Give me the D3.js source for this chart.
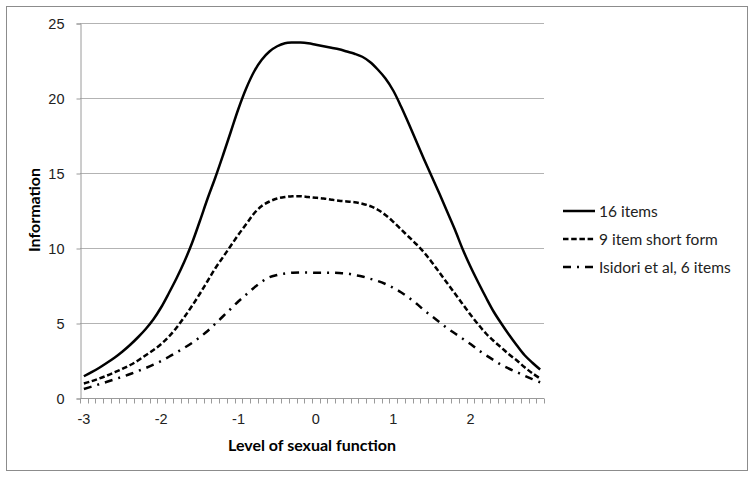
<!DOCTYPE html>
<html>
<head>
<meta charset="utf-8">
<script src="https://cdn.jsdelivr.net/npm/d3@7"></script>
<style>
  body { margin: 0; background: #fff; }
  svg { font-family: Lato, "Open Sans", sans-serif; }
</style>
</head>
<body>
<div id="chart"></div>
<script>
// level of sexual function, -3 .. 2.9 in steps of 0.1 (category axis)
var levels = ["-3","-2.9","-2.8","-2.7","-2.6","-2.5","-2.4","-2.3","-2.2","-2.1",
  "-2","-1.9","-1.8","-1.7","-1.6","-1.5","-1.4","-1.3","-1.2","-1.1",
  "-1","-0.9","-0.8","-0.7","-0.6","-0.5","-0.4","-0.3","-0.2","-0.1",
  "0","0.1","0.2","0.3","0.4","0.5","0.6","0.7","0.8","0.9",
  "1","1.1","1.2","1.3","1.4","1.5","1.6","1.7","1.8","1.9",
  "2","2.1","2.2","2.3","2.4","2.5","2.6","2.7","2.8","2.9"]

var items16 = [1.45,1.72,2.02,2.35,2.7,3.1,3.55,4.05,4.6,5.25,
  6.05,7.0,8.0,9.1,10.35,11.8,13.3,14.7,16.2,17.75,
  19.3,20.65,21.75,22.55,23.1,23.45,23.65,23.7,23.7,23.65,
  23.55,23.45,23.35,23.25,23.1,22.95,22.75,22.4,21.9,21.3,
  20.5,19.45,18.3,17.1,15.9,14.75,13.6,12.4,11.2,9.9,
  8.75,7.7,6.7,5.75,4.95,4.2,3.5,2.85,2.35,1.9]

var items9 = [0.97,1.12,1.3,1.5,1.72,1.95,2.2,2.5,2.85,3.2,
  3.6,4.1,4.7,5.4,6.15,6.95,7.8,8.65,9.4,10.15,
  10.9,11.6,12.3,12.8,13.1,13.3,13.4,13.45,13.45,13.4,
  13.35,13.3,13.22,13.15,13.1,13.05,12.95,12.8,12.55,12.2,
  11.75,11.25,10.75,10.25,9.7,9.05,8.35,7.65,6.95,6.25,
  5.55,4.9,4.3,3.8,3.35,2.9,2.5,2.05,1.65,1.3]

var isidori6 = [0.6,0.76,0.92,1.08,1.25,1.42,1.6,1.8,2.0,2.22,
  2.47,2.75,3.05,3.35,3.68,4.05,4.47,4.95,5.45,5.95,
  6.45,6.9,7.35,7.75,8.05,8.2,8.3,8.35,8.37,8.37,
  8.35,8.35,8.35,8.33,8.3,8.2,8.1,7.95,7.8,7.6,
  7.35,7.05,6.7,6.3,5.85,5.45,5.05,4.65,4.3,3.95,
  3.6,3.2,2.85,2.52,2.2,1.95,1.72,1.48,1.26,1.05]

var yTicks = [0,5,10,15,20,25]
var xLabels = ["-3","-2","-1","0","1","2"]
var seriesNames = ["16 items","9 item short form","Isidori et al, 6 items"]
var seriesData = [items16, items9, isidori6]
var seriesDash = [null, "5.5,2.7", "8,6,2,6"]

var W = 754, H = 478
var svg = d3.select('#chart').append('svg')
  .attr('width', W)
  .attr('height', H)

// outer frame
svg.append('rect')
  .attr('x', 6.5).attr('y', 6.5)
  .attr('width', 741).attr('height', 464)
  .attr('fill', 'white')
  .attr('stroke', '#8c8c8c')
  .attr('stroke-width', 1)

var x = d3.scaleBand().domain(levels).range([80, 544])
var y = d3.scaleLinear().domain([0, 25]).range([398, 23])
var cx = function(c) { return x(c) + x.bandwidth() / 2 }

// gridlines
svg.append('g').selectAll('line')
  .data(yTicks.filter(function(d) { return d > 0 }))
  .enter().append('line')
  .attr('x1', 80).attr('x2', 544)
  .attr('y1', function(d) { return Math.round(y(d)) + 0.5 })
  .attr('y2', function(d) { return Math.round(y(d)) + 0.5 })
  .attr('stroke', '#b3b3b3')
  .attr('stroke-width', 1)

// y axis
var yAxis = svg.append('g')
  .attr('transform', 'translate(80.5,0.5)')
  .call(d3.axisLeft(y).tickValues(yTicks).tickSize(4).tickPadding(12))
yAxis.select('.domain').attr('stroke', '#9a9a9a')
yAxis.selectAll('.tick line').attr('stroke', '#9a9a9a')
yAxis.selectAll('text').attr('font-size', 14.5).attr('fill', '#222')

// x axis: line + minor ticks at category boundaries
var bounds = levels.map(function(c) { return x(c) }).concat([544])
svg.append('line')
  .attr('x1', 80).attr('x2', 544)
  .attr('y1', 398.5).attr('y2', 398.5)
  .attr('stroke', '#9a9a9a')
svg.append('g').selectAll('line')
  .data(bounds)
  .enter().append('line')
  .attr('x1', function(d) { return Math.round(d) + 0.5 })
  .attr('x2', function(d) { return Math.round(d) + 0.5 })
  .attr('y1', 398.5).attr('y2', 403.5)
  .attr('stroke', '#9a9a9a')

var xAxis = svg.append('g')
  .attr('transform', 'translate(0,398)')
  .call(d3.axisBottom(x).tickValues(xLabels).tickSize(0).tickPadding(16))
xAxis.select('.domain').remove()
xAxis.selectAll('text').attr('font-size', 14.5).attr('fill', '#222')

// axis titles
svg.append('text')
  .attr('x', 312).attr('y', 451)
  .attr('text-anchor', 'middle')
  .attr('font-size', 16).attr('font-weight', 'bold')
  .text('Level of sexual function')

svg.append('text')
  .attr('transform', 'translate(40,210) rotate(-90)')
  .attr('text-anchor', 'middle')
  .attr('font-size', 16).attr('font-weight', 'bold')
  .text('Information')

// curves
var line = d3.line()
  .x(function(d, i) { return cx(levels[i]) })
  .y(function(d) { return y(d) })
  .curve(d3.curveCatmullRom.alpha(0.5))

for (var i = 0; i < seriesData.length; i++) {
  var p = svg.append('path')
    .attr('d', line(seriesData[i]))
    .attr('fill', 'none')
    .attr('stroke', 'black')
    .attr('stroke-width', 2.5)
  if (seriesDash[i]) p.attr('stroke-dasharray', seriesDash[i])
}

// legend
var legY = [211, 239, 267]
for (var i = 0; i < seriesNames.length; i++) {
  var l = svg.append('line')
    .attr('x1', 563).attr('x2', 595)
    .attr('y1', legY[i]).attr('y2', legY[i])
    .attr('stroke', 'black')
    .attr('stroke-width', 2.5)
  if (seriesDash[i]) l.attr('stroke-dasharray', seriesDash[i])
  svg.append('text')
    .attr('x', 599).attr('y', legY[i] + 5.5)
    .attr('font-size', 15.5).attr('fill', '#222')
    .text(seriesNames[i])
}
</script>
</body>
</html>
